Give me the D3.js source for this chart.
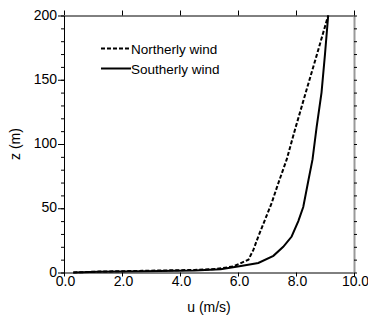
<!DOCTYPE html>
<html>
<head>
<meta charset="utf-8">
<script src="https://cdn.jsdelivr.net/npm/d3@7"></script>
<style>
  body { margin: 0; background: #fff; }
  svg { font-family: "Liberation Sans", Arial, sans-serif; }
</style>
</head>
<body>
<div id="chart"></div>
<script>
// Wind speed profiles (u in m/s, z in m)
var northU = [0.32, 1.2, 2.7, 4.5, 5.26, 5.84, 6.36, 6.53, 6.7, 6.93, 7.16, 7.39, 7.68, 7.95, 8.31, 8.7, 9.11];
var northZ = [0, 0.7, 1.3, 2.0, 2.8, 4.7, 10, 17.6, 28, 41, 54, 69.5, 88, 110, 138, 168, 200];
var southU = [0.32, 1.2, 2.7, 4.5, 5.4, 6.1, 6.7, 7.22, 7.56, 7.85, 8.08, 8.25, 8.43, 8.57, 8.71, 8.88, 9.0, 9.11];
var southZ = [0, 0.5, 1.0, 1.6, 2.5, 5, 7.4, 13, 20, 28, 40, 51, 72, 88, 113, 140, 170, 200];
var xTicks = [0, 2, 4, 6, 8, 10];
var yTicks = [0, 50, 100, 150, 200];
var yMinor = d3.range(0, 201, 10);
var series = [
    { name: "Northerly wind", u: northU, z: northZ, dash: "4,2" },
    { name: "Southerly wind", u: southU, z: southZ, dash: null }
];

const W = 368, H = 320;
const margin = { top: 15.5, right: 14, bottom: 47.5, left: 64 };
const width = W - margin.left - margin.right;
const height = H - margin.top - margin.bottom;

const svg = d3.select("#chart")
    .append("svg")
    .attr("width", W)
    .attr("height", H)
    .append("g")
    .attr("transform", `translate(${margin.left}, ${margin.top})`);

const x = d3.scaleLinear().domain([0, 10]).range([0, width]);
const y = d3.scaleLinear().domain([0, 200]).range([height, 0]);

// top axis
svg.append("g")
    .call(d3.axisTop(x).tickValues(xTicks).tickSize(5).tickSizeOuter(0).tickFormat(""));

// bottom axis
const bottom = svg.append("g")
    .attr("transform", `translate(0, ${height})`)
    .call(d3.axisBottom(x).tickValues(xTicks).tickSize(4).tickSizeOuter(0)
        .tickPadding(0).tickFormat(d3.format(".1f")));
bottom.selectAll("text").attr("font-size", 14).attr("fill", "#000").attr("dx", 1);

// left axis: minor then major
svg.append("g")
    .call(d3.axisLeft(y).tickValues(yMinor).tickSize(3).tickSizeOuter(0).tickFormat(""));
const left = svg.append("g")
    .call(d3.axisLeft(y).tickValues(yTicks).tickSize(6).tickSizeOuter(0).tickPadding(1));
left.selectAll("text").attr("font-size", 14).attr("fill", "#000").attr("dy", "0.25em");

// right axis (grey line, black ticks)
const right = svg.append("g")
    .attr("transform", `translate(${width}, 0)`)
    .call(d3.axisRight(y).tickValues(yMinor).tickSize(3).tickSizeOuter(0).tickFormat(""));
right.select(".domain").attr("stroke", "#999").attr("stroke-width", 2);
right.selectAll(".tick line").attr("stroke", "#000");

// curves
const line = d3.line()
    .x(d => x(d[0]))
    .y(d => y(d[1]));
series.forEach(function (s) {
    svg.append("path")
        .datum(s.u.map((u, i) => [u, s.z[i]]))
        .attr("fill", "none")
        .attr("stroke", "#000")
        .attr("stroke-width", 2)
        .attr("stroke-dasharray", s.dash)
        .attr("d", line);
});

// legend
const legend = svg.append("g").attr("transform", "translate(37, 33)");
series.forEach(function (s, i) {
    const g = legend.append("g").attr("transform", `translate(0, ${i * 20})`);
    g.append("line")
        .attr("x1", 0).attr("x2", 30)
        .attr("stroke", "#000").attr("stroke-width", 2)
        .attr("stroke-dasharray", s.dash);
    g.append("text")
        .attr("x", 30).attr("y", 5)
        .attr("font-size", 13.5)
        .text(s.name);
});

// axis titles
svg.append("text")
    .attr("x", width / 2)
    .attr("y", height + 39)
    .attr("text-anchor", "middle")
    .attr("font-size", 14)
    .text("u (m/s)");
svg.append("text")
    .attr("transform", "rotate(-90)")
    .attr("x", -height / 2)
    .attr("y", -44)
    .attr("text-anchor", "middle")
    .attr("font-size", 14)
    .text("z (m)");
</script>
</body>
</html>
